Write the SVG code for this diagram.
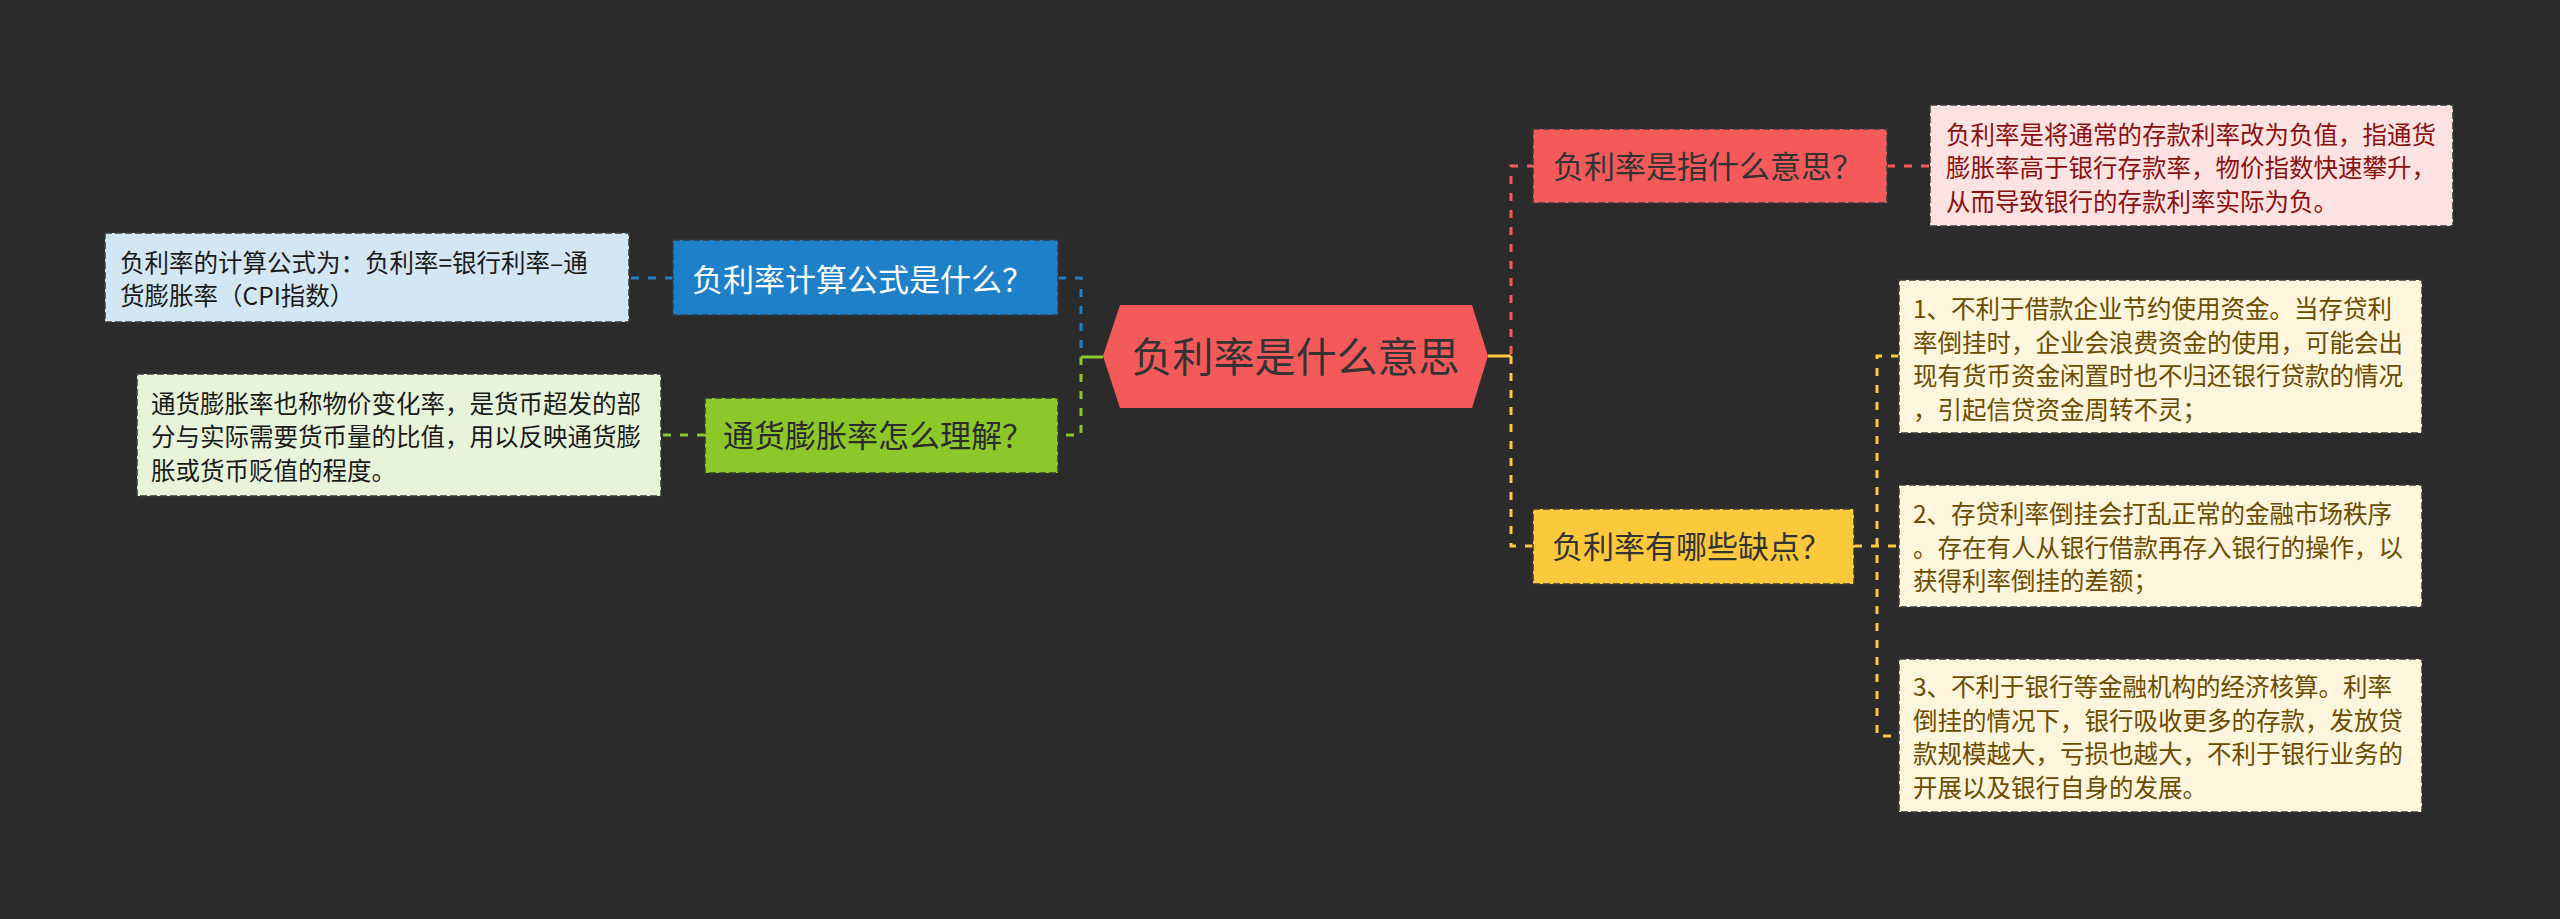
<svg xmlns="http://www.w3.org/2000/svg" width="2560" height="919" viewBox="0 0 2560 919">
<style>
text{font-family:"Noto Sans CJK SC","Liberation Sans",sans-serif;}
.c{fill:none;stroke-width:3;stroke-dasharray:8 9;}
.s{fill:none;stroke-width:3;}
.box{stroke:#3a3a3a;stroke-width:1.5;stroke-dasharray:7 3;}
.n{font-size:31px;}
.d{font-size:24.5px;}
</style>
<rect x="0" y="0" width="2560" height="919" fill="#2b2b2b"/>
<g id="connectors">
<path class="c" stroke="#1e80c8" d="M1058,278 H1081 V354"/>
<path class="c" stroke="#1e80c8" d="M673,278 H629"/>
<path class="s" stroke="#8dc82a" d="M1103,357 H1081"/>
<path class="c" stroke="#8dc82a" d="M1081,357 V435 H1058"/>
<path class="c" stroke="#8dc82a" d="M705,435 H661"/>
<path class="c" stroke="#f55a5a" d="M1511,354 V166 H1533"/>
<path class="c" stroke="#f55a5a" d="M1887,166 H1930"/>
<path class="s" stroke="#fcc83c" d="M1488,356 H1511"/>
<path class="c" stroke="#fcc83c" d="M1511,356 V546 H1533"/>
<path class="c" stroke="#fcc83c" d="M1854,546 H1899"/>
<path class="c" stroke="#fcc83c" d="M1899,356 H1877 V736 H1899"/>
</g>
<g id="center">
<polygon points="1103,356 1120,305 1472,305 1488,356 1472,408 1120,408" fill="#f55a5a"/>
<text x="1295.5" y="371.5" font-size="41" text-anchor="middle" fill="#333">负利率是什么意思</text>
</g>
<g id="n-formula">
<rect class="box" x="673" y="240" width="385" height="75" fill="#1e80c8"/>
<text class="n" x="692" y="291" fill="#ffffff">负利率计算公式是什么？</text>
</g>
<g id="d-formula">
<rect class="box" x="105" y="233" width="524" height="89" fill="#d3e6f3"/>
<text class="d" fill="#1a1a1a"><tspan x="120" y="272.3">负利率的计算公式为：负利率=银行利率–通</tspan><tspan x="120" y="305.3">货膨胀率（CPI指数）</tspan></text>
</g>
<g id="n-inflation">
<rect class="box" x="705" y="398" width="353" height="75" fill="#8dc82a"/>
<text class="n" x="723" y="447" fill="#2b2b2b">通货膨胀率怎么理解？</text>
</g>
<g id="d-inflation">
<rect class="box" x="137" y="374" width="524" height="122" fill="#e8f4d9"/>
<text class="d" fill="#1a1a1a"><tspan x="151" y="412.8">通货膨胀率也称物价变化率，是货币超发的部</tspan><tspan x="151" y="446.3">分与实际需要货币量的比值，用以反映通货膨</tspan><tspan x="151" y="479.8">胀或货币贬值的程度。</tspan></text>
</g>
<g id="n-meaning">
<rect class="box" x="1533" y="129" width="354" height="74" fill="#f55a5a"/>
<text class="n" x="1553" y="178" fill="#333">负利率是指什么意思？</text>
</g>
<g id="d-meaning">
<rect class="box" x="1930" y="105" width="523" height="121" fill="#fde2e2"/>
<text class="d" fill="#8b1010"><tspan x="1946" y="143.8">负利率是将通常的存款利率改为负值，指通货</tspan><tspan x="1946" y="177.3">膨胀率高于银行存款率，物价指数快速攀升，</tspan><tspan x="1946" y="210.8">从而导致银行的存款利率实际为负。</tspan></text>
</g>
<g id="n-flaws">
<rect class="box" x="1533" y="509" width="321" height="75" fill="#fcc83c"/>
<text class="n" x="1552" y="558" fill="#333">负利率有哪些缺点？</text>
</g>
<g id="d-flaw1">
<rect class="box" x="1899" y="280" width="523" height="153" fill="#fdf5dc"/>
<text class="d" fill="#6b4c00"><tspan x="1913" y="318.3">1、不利于借款企业节约使用资金。当存贷利</tspan><tspan x="1913" y="351.8">率倒挂时，企业会浪费资金的使用，可能会出</tspan><tspan x="1913" y="385.3">现有货币资金闲置时也不归还银行贷款的情况</tspan><tspan x="1913" y="418.8">，引起信贷资金周转不灵；</tspan></text>
</g>
<g id="d-flaw2">
<rect class="box" x="1899" y="485" width="523" height="122" fill="#fdf5dc"/>
<text class="d" fill="#6b4c00"><tspan x="1913" y="523.3">2、存贷利率倒挂会打乱正常的金融市场秩序</tspan><tspan x="1913" y="556.8">。存在有人从银行借款再存入银行的操作，以</tspan><tspan x="1913" y="590.3">获得利率倒挂的差额；</tspan></text>
</g>
<g id="d-flaw3">
<rect class="box" x="1899" y="659" width="523" height="153" fill="#fdf5dc"/>
<text class="d" fill="#6b4c00"><tspan x="1913" y="696.3">3、不利于银行等金融机构的经济核算。利率</tspan><tspan x="1913" y="729.8">倒挂的情况下，银行吸收更多的存款，发放贷</tspan><tspan x="1913" y="763.3">款规模越大，亏损也越大，不利于银行业务的</tspan><tspan x="1913" y="796.8">开展以及银行自身的发展。</tspan></text>
</g>
</svg>
